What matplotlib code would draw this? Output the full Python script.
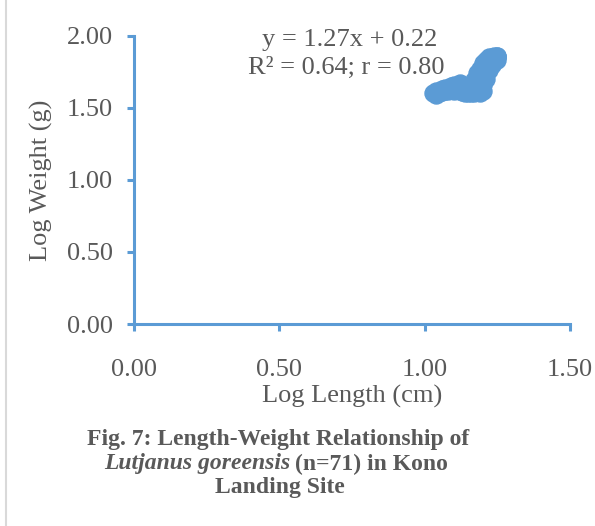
import matplotlib
matplotlib.use("Agg")
import matplotlib.pyplot as plt
from matplotlib.lines import Line2D

plt.rcParams['font.family'] = ['Liberation Serif', 'DejaVu Serif']

# log length (cm) and log weight (g)
log_len = [1.03, 1.04, 1.04, 1.05, 1.05, 1.06, 1.06, 1.07, 1.07, 1.08, 1.08,
           1.09, 1.09, 1.10, 1.10, 1.10, 1.11, 1.11, 1.12, 1.12, 1.12,
           1.13, 1.13, 1.13, 1.14, 1.14, 1.14, 1.15, 1.15, 1.15, 1.16, 1.16, 1.16,
           1.17, 1.17, 1.17, 1.17, 1.18, 1.18, 1.18, 1.18,
           1.19, 1.19, 1.19, 1.19, 1.19, 1.20, 1.20, 1.20, 1.20, 1.20,
           1.21, 1.21, 1.21, 1.21, 1.22, 1.22, 1.22, 1.22, 1.22,
           1.23, 1.23, 1.23, 1.24, 1.24, 1.24, 1.25, 1.25, 1.25, 1.25, 1.25]
log_wt = [1.60, 1.59, 1.62, 1.60, 1.62, 1.61, 1.63, 1.62, 1.64, 1.62, 1.64,
          1.63, 1.65, 1.62, 1.64, 1.66, 1.63, 1.66, 1.62, 1.64, 1.67,
          1.61, 1.63, 1.66, 1.60, 1.63, 1.65, 1.60, 1.62, 1.64, 1.60, 1.62, 1.65,
          1.60, 1.62, 1.66, 1.69, 1.61, 1.64, 1.70, 1.74,
          1.60, 1.63, 1.67, 1.72, 1.77, 1.62, 1.66, 1.74, 1.78, 1.81,
          1.70, 1.76, 1.80, 1.83, 1.76, 1.78, 1.81, 1.83, 1.85,
          1.80, 1.83, 1.85, 1.82, 1.84, 1.86, 1.83, 1.85, 1.86, 1.85, 1.86]

xticks = [0.0, 0.5, 1.0, 1.5]
yticks = [0.0, 0.5, 1.0, 1.5, 2.0]

blue = "#5B9BD5"
grey = "#595959"

fig = plt.figure(figsize=(5.95, 5.26), dpi=100)
ax = fig.add_axes([0.225, 0.384, 0.733, 0.548])

ax.scatter(log_len, log_wt, s=150, color=blue, edgecolors=blue, linewidths=1, zorder=3)

ax.set_xlim(0, 1.5)
ax.set_ylim(0, 2.0)
ax.set_xticks(xticks)
ax.set_yticks(yticks)
ax.set_xticklabels(["%.2f" % v for v in xticks])
ax.set_yticklabels(["%.2f" % v for v in yticks])
ax.tick_params(colors=blue, width=2.2, length=5, labelcolor=grey, labelsize=19)
ax.tick_params(axis='x', pad=20)
ax.tick_params(axis='y', pad=10)

for s in ['top', 'right']:
    ax.spines[s].set_visible(False)
for s in ['left', 'bottom']:
    ax.spines[s].set_color(blue)
    ax.spines[s].set_linewidth(2.2)

ax.set_xlabel("Log Length (cm)", fontsize=19, color=grey, labelpad=3)
ax.set_ylabel("Log Weight (g)", fontsize=19, color=grey, labelpad=10)

ax.text(0.44, 1.97, "y = 1.27x + 0.22", fontsize=19, color=grey, ha='left', va='center')
ax.text(0.392, 1.78, "R² = 0.64; r = 0.80", fontsize=19, color=grey, ha='left', va='center')

# caption
fig.text(278/595, 1 - 440/526, "Fig. 7: Length-Weight Relationship of", fontsize=17,
         fontweight='bold', color=grey, ha='center', va='center')
fig.text(290/595, 1 - 464/526, "Lutjanus goreensis", fontsize=17, style='italic',
         fontweight='bold', color=grey, ha='right', va='center')
fig.text(295/595, 1 - 464/526, "(n=71) in Kono", fontsize=17, fontweight='bold',
         color=grey, ha='left', va='center')
fig.text(280/595, 1 - 488/526, "Landing Site", fontsize=17, fontweight='bold',
         color=grey, ha='center', va='center')

fig.add_artist(Line2D([6/595, 6/595], [0, 1], color="#D9D9D9", lw=1.5))

plt.savefig("out.png", dpi=100)
